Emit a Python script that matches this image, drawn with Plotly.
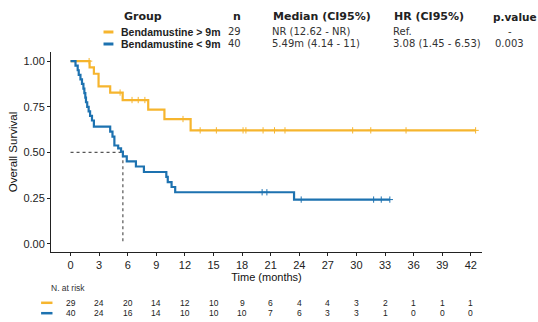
import plotly.graph_objects as go

# Kaplan-Meier step estimates (time in months, survival probability)
time_gt9 = [0, 2.0, 2.45, 2.94, 4.16, 5.47, 8.15, 9.85, 12.6, 42.5]
surv_gt9 = [1.0, 0.966, 0.931, 0.862, 0.828, 0.787, 0.735, 0.683, 0.621, 0.621]
cens_t_gt9 = [1.95, 5.2, 6.45, 7.1, 7.8, 11.8, 13.6, 15.3, 18.1, 18.4, 20.2,
              21.4, 22.5, 29.6, 31.5, 35.2, 42.5]
cens_s_gt9 = [1.0, 0.828, 0.787, 0.787, 0.787, 0.683, 0.621, 0.621, 0.621,
              0.621, 0.621, 0.621, 0.621, 0.621, 0.621, 0.621, 0.621]

time_lt9 = [0, 0.52, 0.75, 0.86, 1.04, 1.2, 1.35, 1.45, 1.55, 1.62, 1.75, 1.9,
            2.05, 2.25, 2.45, 4.16, 4.4, 4.6, 5.0, 5.3, 5.49, 5.9, 6.86, 7.7,
            10.05, 10.2, 10.6, 10.98, 23.45, 33.5]
surv_lt9 = [1.0, 0.975, 0.95, 0.925, 0.90, 0.875, 0.85, 0.825, 0.80, 0.775,
            0.75, 0.725, 0.70, 0.675, 0.641, 0.614, 0.587, 0.538, 0.522, 0.505,
            0.478, 0.451, 0.423, 0.393, 0.366, 0.338, 0.311, 0.282, 0.242, 0.242]
cens_t_lt9 = [20.1, 20.6, 24.2, 31.8, 32.6, 33.5]
cens_s_lt9 = [0.282, 0.282, 0.242, 0.242, 0.242, 0.242]

median_lt9 = 5.49

# Numbers at risk
risk_times = [0, 3, 6, 9, 12, 15, 18, 21, 24, 27, 30, 33, 36, 39, 42]
risk_gt9 = [29, 24, 20, 14, 12, 10, 9, 6, 4, 4, 3, 2, 1, 1, 1]
risk_lt9 = [40, 24, 16, 14, 10, 10, 10, 7, 6, 3, 3, 1, 0, 0, 0]

# Summary table
groups = ["Bendamustine > 9m", "Bendamustine < 9m"]
group_n = ["29", "40"]
medians = ["NR (12.62 - NR)", "5.49m (4.14 - 11)"]
hrs = ["Ref.", "3.08 (1.45 - 6.53)"]
pvals = ["-", "0.003"]

ORANGE = "#F6B52E"
BLUE = "#1D72B0"
colors = [ORANGE, BLUE]

W, H = 538, 322
L, R, T, B = 47, 56, 52, 70
PW, PH = W - L - R, H - T - B


def xp(px):
    return (px - L) / PW


def yp(py):
    return (H - B - py) / PH


fig = go.Figure()

# Median reference lines
fig.add_trace(go.Scatter(x=[0, median_lt9, median_lt9], y=[0.5, 0.5, 0],
                         mode="lines", line=dict(color="#555", width=1.2, dash="dot"),
                         hoverinfo="skip", showlegend=False))

for t, s, ct, cs, c in [(time_gt9, surv_gt9, cens_t_gt9, cens_s_gt9, ORANGE),
                        (time_lt9, surv_lt9, cens_t_lt9, cens_s_lt9, BLUE)]:
    fig.add_trace(go.Scatter(x=t, y=s, mode="lines", line=dict(color=c, width=2.2, shape="hv"),
                             showlegend=False))
    fig.add_trace(go.Scatter(x=ct, y=cs, mode="markers",
                             marker=dict(symbol="cross-thin", size=4.5, line=dict(color=c, width=1)),
                             showlegend=False))

fig.update_xaxes(range=[-2.05, 43.17], tickvals=risk_times, ticks="outside", ticklen=3,
                 tickcolor="#222", showline=True, linecolor="#222", linewidth=1,
                 showgrid=False, zeroline=False,
                 tickfont=dict(family="Liberation Sans", size=11, color="#222"),
                 title=dict(text="Time (months)", standoff=0,
                            font=dict(family="Liberation Sans", size=11, color="#111")))
fig.update_yaxes(range=[-0.045, 1.05], tickvals=[0, 0.25, 0.5, 0.75, 1.0],
                 ticktext=["0.00", "0.25", "0.50", "0.75", "1.00"],
                 ticks="outside", ticklen=3, tickcolor="#222", showline=True,
                 linecolor="#222", linewidth=1, showgrid=False, zeroline=False,
                 tickfont=dict(family="Liberation Sans", size=11, color="#222"),
                 title=dict(text="Overall Survival", standoff=3,
                            font=dict(family="Liberation Sans", size=11.5, color="#111")))

ann = []
shapes = []

# Header row
hdr_font = dict(family="DejaVu Sans", size=11, color="#222")
for txt, px, sz in [("<b>Group</b>", 118.4, 11), ("<b>n</b>", 229, 11),
                    ("<b>Median (CI95%)</b>", 268.8, 11),
                    ("<b>HR (CI95%)</b>", 390.7, 11), ("<b>p.value</b>", 491.5, 10.5)]:
    ann.append(dict(text=txt, x=xp(px), y=yp(16.5), xref="paper", yref="paper",
                    xanchor="left", yanchor="middle", showarrow=False,
                    font=dict(hdr_font, size=sz)))

val_font = dict(family="DejaVu Sans", size=10, color="#333")
row_y = [32.0, 44.0]
for i in range(2):
    y = yp(row_y[i])
    shapes.append(dict(type="line", xref="paper", yref="paper", x0=xp(100), x1=xp(110),
                       y0=y, y1=y, line=dict(color=colors[i], width=3)))
    ann.append(dict(text="<b>%s</b>" % groups[i], x=xp(115.2), y=y, xref="paper", yref="paper",
                    xanchor="left", yanchor="middle", showarrow=False,
                    font=dict(family="Liberation Sans", size=10.5, color="#222")))
    ann.append(dict(text=group_n[i], x=xp(223.5), y=y, xref="paper", yref="paper",
                    xanchor="left", yanchor="middle", showarrow=False, font=val_font))
    ann.append(dict(text=medians[i], x=xp(268.5), y=y, xref="paper", yref="paper",
                    xanchor="left", yanchor="middle", showarrow=False, font=val_font))
    ann.append(dict(text=hrs[i], x=xp(390.5), y=y, xref="paper", yref="paper",
                    xanchor="left", yanchor="middle", showarrow=False, font=val_font))
    ann.append(dict(text=pvals[i], x=xp(510), y=y, xref="paper", yref="paper",
                    xanchor="center", yanchor="middle", showarrow=False, font=val_font))

# Risk table
ann.append(dict(text="N. at risk", x=xp(45), y=yp(288), xref="paper", yref="paper",
                xanchor="left", yanchor="middle", showarrow=False,
                font=dict(family="Liberation Sans", size=8.5, color="#333")))
risk_y = [302.8, 313.2]
for i, vals in enumerate([risk_gt9, risk_lt9]):
    y = yp(risk_y[i])
    shapes.append(dict(type="line", xref="paper", yref="paper", x0=xp(37), x1=xp(48.5),
                       y0=y, y1=y, line=dict(color=colors[i], width=2.5)))
    for t, v in zip(risk_times, vals):
        ann.append(dict(text=str(v), x=t, y=y, xref="x", yref="paper",
                        xanchor="center", yanchor="middle", showarrow=False,
                        font=dict(family="Liberation Sans", size=8.5, color="#222")))

fig.update_layout(width=W, height=H, margin=dict(l=L, r=R, t=T, b=B),
                  paper_bgcolor="white", plot_bgcolor="white",
                  annotations=ann, shapes=shapes, showlegend=False)

fig.write_html("out.html")
